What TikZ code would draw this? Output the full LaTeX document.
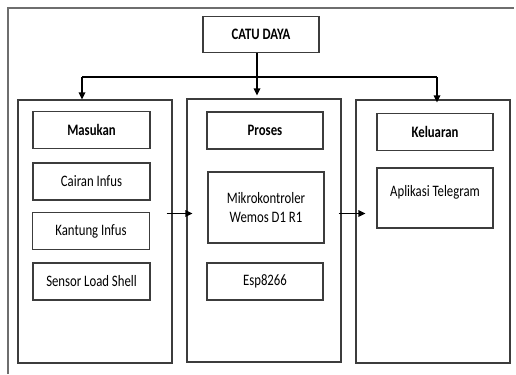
\documentclass[tikz,border=0pt]{standalone}
\usepackage{fontspec}
\setmainfont{Carlito}[FakeStretch=0.8]
\usepackage{tikz}
\usetikzlibrary{arrows.meta, positioning, calc}
\definecolor{FrameGray}{RGB}{110, 110, 110}
\definecolor{BoxGray}{RGB}{60, 60, 60}

\begin{document}
\begin{tikzpicture}[
        x=1bp, y=-1bp,
        >={Triangle[length=7bp, width=6.5bp]},
        bigbox/.style={draw=BoxGray, line width=1.1bp, minimum width=154bp, minimum height=263bp},
        inbox/.style={draw=BoxGray, line width=1.1bp, minimum width=117bp, minimum height=37bp, align=center, font=\fontsize{16}{20}\selectfont},
        headbox/.style={inbox, font=\fontsize{16}{20}\selectfont\bfseries},
        wire/.style={line width=1.6bp, black},
        arrow/.style={wire, ->}
    ]
    \useasboundingbox (0,0) rectangle (516,374);

    % Bingkai luar
    \draw[FrameGray, line width=1.2bp] (8,374) -- (8,8) -- (514,8);

    % Catu daya
    \node[headbox, minimum width=116bp, minimum height=36bp] (catu) at (261,34.5) {CATU DAYA};

    % Blok utama
    \node[bigbox] (masuk) at (95,231.5) {};
    \node[bigbox] (proses) at (264,230.5) {};
    \node[bigbox] (keluar) at (433,231.5) {};

    % Isi masukan
    \node[headbox] (hMasuk) at (91.5,130) {Masukan};
    \node[inbox] (cairan) at (91.5,181.5) {Cairan Infus};
    \node[inbox] (kantung) at (91,231) {Kantung Infus};
    \node[inbox] (sensor) at (91.5,281.5) {Sensor Load Shell};

    % Isi proses
    \node[headbox, minimum width=116bp] (hProses) at (265,130.5) {Proses};
    \node[inbox, minimum width=116bp, minimum height=71bp] (mikro) at (266,207.5) {Mikrokontroler\\Wemos D1 R1};
    \node[inbox, minimum width=116bp] (esp) at (265,281.5) {Esp8266};

    % Isi keluaran
    \node[headbox, minimum width=116bp] (hKeluar) at (435,132) {Keluaran};
    \node[inbox, minimum width=116bp, minimum height=60bp, text depth=15bp] (apl) at (435,198) {Aplikasi Telegram};

    % Jalur catu daya
    \coordinate (bus) at (257,77);
    \coordinate (busL) at (82,77);
    \coordinate (busR) at (437,77);
    \draw[wire] (catu.south -| bus) -- (bus);
    \draw[wire] (busL) -- (busR);
    \draw[arrow] (busL) -- (busL |- masuk.north);
    \draw[arrow] (bus) -- ([yshift=3bp]bus |- proses.north);
    \draw[arrow] (busR) -- ([yshift=-3bp]busR |- keluar.north);

    % Alur data
    \draw[arrow] ([xshift=-6bp, yshift=18bp]masuk.east) -- ([xshift=6bp, yshift=18bp]masuk.east -| proses.west);
    \draw[arrow] ([xshift=-3bp, yshift=18bp]masuk.east -| proses.east) -- ([xshift=10bp, yshift=18bp]masuk.east -| keluar.west);

\end{tikzpicture}
\end{document}
